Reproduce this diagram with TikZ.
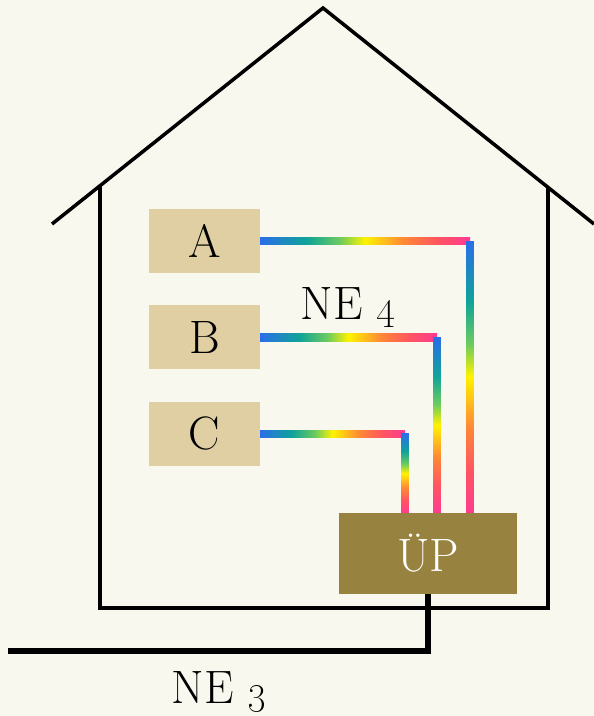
\documentclass[tikz,border=0pt]{standalone}
\usetikzlibrary{positioning,calc}
\definecolor{paper}{HTML}{F9F8EF}
\definecolor{roomtan}{HTML}{DFCFA3}
\definecolor{uptan}{HTML}{98823F}
\definecolor{cblue}{HTML}{2B6EE8}
\definecolor{cteal}{HTML}{0FA39A}
\definecolor{cgreen}{HTML}{6CCB5F}
\definecolor{cyellow}{HTML}{FFF200}
\definecolor{corange}{HTML}{FF8A35}
\definecolor{cred}{HTML}{FF5560}
\definecolor{cpink}{HTML}{FF3A90}
% the visible part of a shading lies between 25bp and 75bp
\pgfdeclarehorizontalshading{rainbow}{100bp}{color(0bp)=(cblue); color(25bp)=(cblue); color(36bp)=(cteal); color(44bp)=(cgreen); color(50bp)=(cyellow); color(59bp)=(corange); color(67bp)=(cred); color(75bp)=(cpink); color(100bp)=(cpink)}
\newcommand{\osnum}[1]{{\fontsize{48}{50}\selectfont\oldstylenums{#1}}}

\begin{document}
\begin{tikzpicture}[x=0.03cm, y=-0.03cm, font=\fontsize{40}{44}\selectfont,
		room/.style={fill=roomtan, minimum width=3.33cm, minimum height=1.92cm, inner sep=0pt},
		wall/.style={line width=3pt},
		cable/.style={shading=rainbow}]
		% paper
		\fill[paper] (0,0) rectangle (594,716);
		\useasboundingbox (0,0) rectangle (594,716);
		% house
		\draw[wall] (52,224) -- (323,8) -- (594,224);
		\draw[wall] (100,186) -- (100,608) -- (548,608) -- (548,187);
		% rooms and transfer point
		\node[room] (A) at (204.5,241) {A};
		\node[room, below=0.96cm of A] (B) {B};
		\node[room, below=0.96cm of B] (C) {C};
		\node[fill=uptan, text=white, minimum width=5.34cm, minimum height=2.43cm, inner sep=0pt] (UP) at (428,553.5) {ÜP};
		% cables from the rooms to the transfer point
		\foreach \n/\x in {A/470,B/437,C/405} {
			\coordinate (k\n) at (\x,0);
			\shade[cable] ($(\n.east)+(0,-3.8)$) rectangle ($(\n.east -| k\n)+(0,3.8)$);
			\shade[cable, shading angle=-90] ($(\n.east -| k\n)+(-3.8,0)$) rectangle ($(k\n |- UP.north)+(3.8,0)$);
		}
		% line to the outside
		\draw[line width=5pt] (UP.south) |- (8,651);
		% labels
		\node[anchor=base] (ne4) at (348,319) {NE \osnum{4}};
		\node[anchor=base] (ne3) at (219,703) {NE \osnum{3}};
	\end{tikzpicture}
\end{document}
